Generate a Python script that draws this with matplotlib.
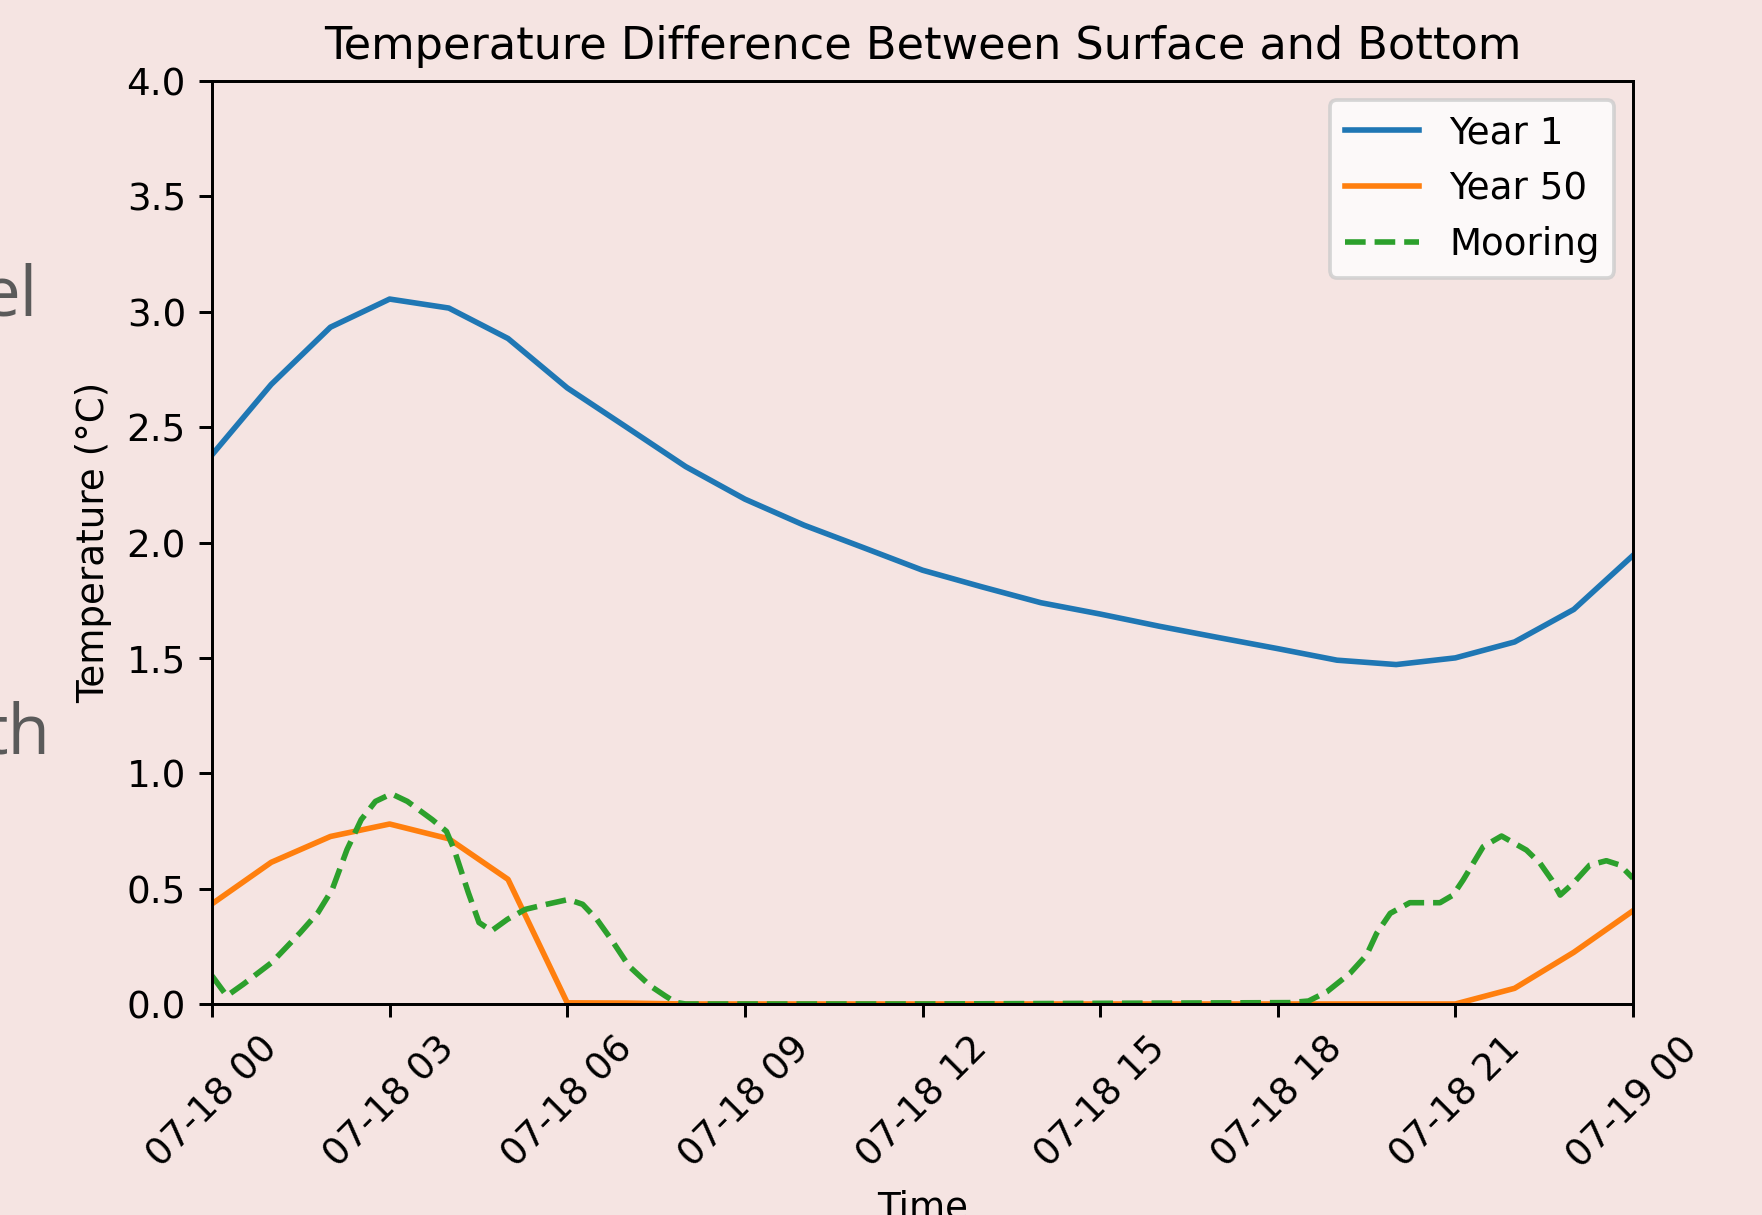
import matplotlib.pyplot as plt
import matplotlib.dates as mdates
import numpy as np
import pandas as pd

start = pd.Timestamp('2023-07-18 00:00')

# Model runs, hourly
hours_model = list(range(25))
year1 = [2.38, 2.685, 2.933, 3.055, 3.016, 2.884, 2.67, 2.50, 2.329, 2.188,
         2.075, 1.978, 1.88, 1.808, 1.739, 1.69, 1.637, 1.588, 1.54, 1.49,
         1.471, 1.50, 1.569, 1.71, 1.944]
year50 = [0.434, 0.614, 0.726, 0.78, 0.716, 0.54, 0.005, 0.004, 0.0, 0.0,
          0.0, 0.0, 0.0, 0.0, 0.0, 0.0, 0.0, 0.0, 0.0, 0.0,
          0.0, 0.0, 0.068, 0.224, 0.404]

# Mooring observations (hours after start)
hours_mooring = [0.0, 0.25, 0.53, 1.01, 1.49, 1.79, 2.03, 2.28, 2.52, 2.76,
                 3.03, 3.30, 3.72, 3.96, 4.09, 4.33, 4.51, 4.72, 4.99, 5.29,
                 5.65, 6.02, 6.26, 6.5, 6.74, 7.04, 7.4, 7.65, 7.83, 8.0,
                 12.0, 18.2, 18.52, 18.83, 19.22, 19.5, 19.67, 19.9, 20.23, 20.74,
                 20.96, 21.13, 21.47, 21.78, 22.2, 22.43, 22.63, 22.77, 22.99, 23.27,
                 23.55, 23.78, 24.0]
mooring = [0.122, 0.035, 0.086, 0.18, 0.309, 0.396, 0.496, 0.669, 0.799, 0.878,
           0.911, 0.878, 0.799, 0.748, 0.669, 0.482, 0.353, 0.317, 0.367, 0.41,
           0.432, 0.453, 0.432, 0.367, 0.281, 0.165, 0.079, 0.036, 0.007, 0.0,
           0.0, 0.006, 0.013, 0.053, 0.133, 0.212, 0.306, 0.393, 0.439, 0.439,
           0.472, 0.537, 0.682, 0.728, 0.667, 0.61, 0.537, 0.472, 0.523, 0.602,
           0.621, 0.602, 0.545]

t_model = start + pd.to_timedelta(hours_model, unit='h')
t_mooring = start + pd.to_timedelta(hours_mooring, unit='h')

bg = '#f5e4e2'
W, H = 1762, 1215
DPI = 268
fig = plt.figure(figsize=(W / DPI, H / DPI), dpi=DPI, facecolor=bg)
ax = fig.add_axes([212 / W, 1 - 1004 / H, 1421 / W, 923 / H])
ax.set_facecolor(bg)

ax.plot(t_model, year1, label='Year 1', color='#1f77b4')
ax.plot(t_model, year50, label='Year 50', color='#ff7f0e')
ax.plot(t_mooring, mooring, label='Mooring', color='#2ca02c', linestyle='--')

ax.set_xlim(start, start + pd.Timedelta(hours=24))
ax.set_ylim(0, 4)
ax.xaxis.set_major_locator(mdates.HourLocator(byhour=range(0, 24, 3)))
ax.xaxis.set_major_formatter(mdates.DateFormatter('%m-%d %H'))
plt.setp(ax.get_xticklabels(), rotation=45)

ax.set_title('Temperature Difference Between Surface and Bottom')
ax.set_xlabel('Time')
ax.set_ylabel('Temperature (°C)')
ax.legend(loc='upper right')

# slide text cut off at the left edge
fig.text(37 / W, 1 - 315 / H, 'el', ha='right', va='baseline',
         fontsize=18.5, color='#5a5a5a', family='Open Sans')
fig.text(51 / W, 1 - 753 / H, 'th', ha='right', va='baseline',
         fontsize=18.5, color='#5a5a5a', family='Open Sans')

fig.savefig('out.png', dpi=DPI, facecolor=bg)
